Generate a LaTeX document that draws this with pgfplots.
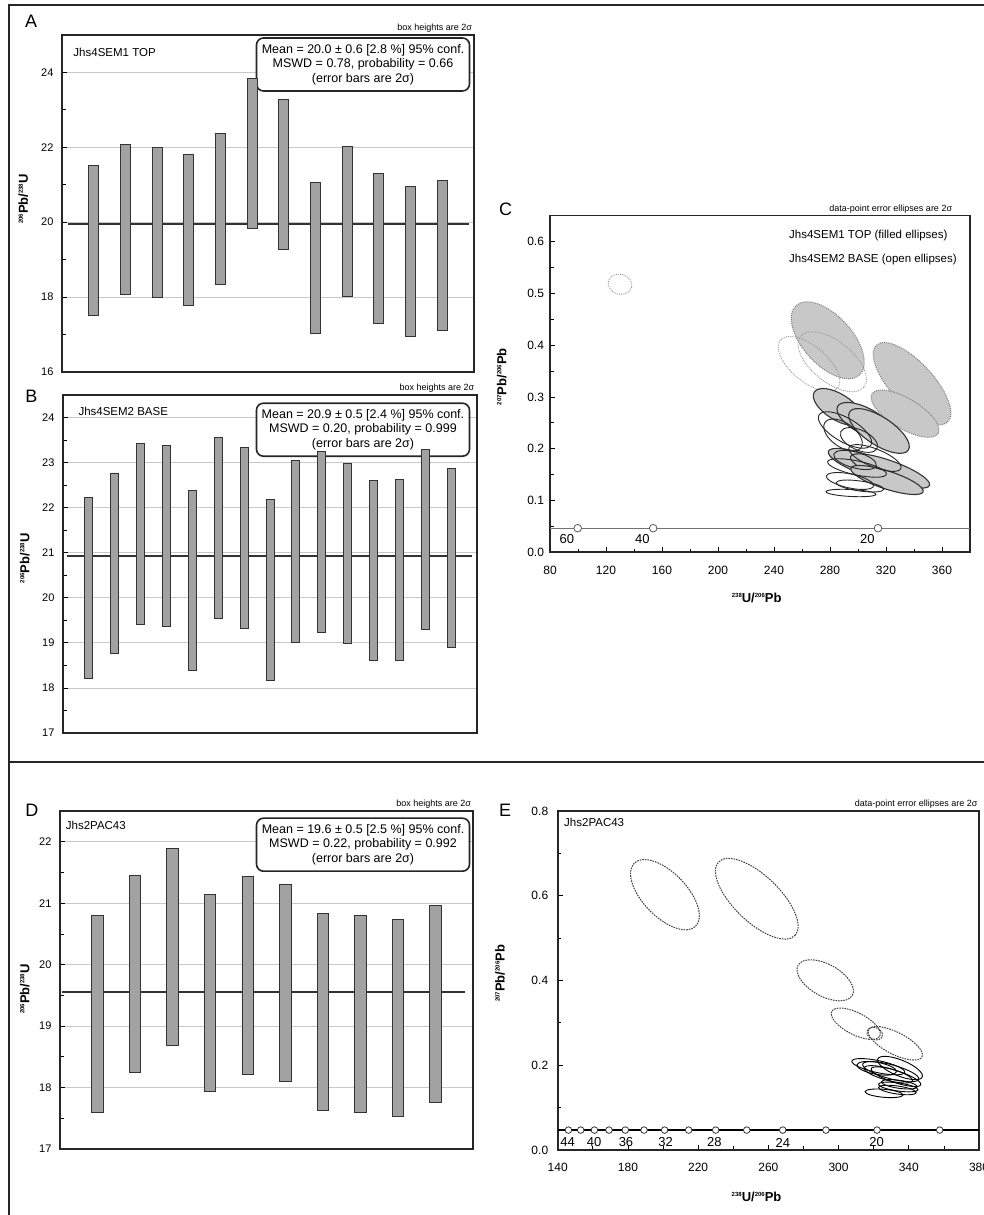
\documentclass[border=0pt]{standalone}
\usepackage{pgfplots}
\pgfplotsset{compat=1.18}
\usepackage{pgfplotstable}
\usepackage{fontspec}
\setmainfont{Liberation Sans}

\definecolor{barfill}{HTML}{A2A2A2}
\definecolor{barline}{HTML}{333333}
\definecolor{gridc}{HTML}{C8C8C8}
\definecolor{ellfill}{HTML}{C8C8C8}
\definecolor{framec}{HTML}{262626}

\pgfdeclareplotmark{ellF}{%
  \pgfpathellipse{\pgfpointorigin}{\pgfpointpolar{\ellT}{\ellA pt}}{\pgfpointpolar{\ellT+90}{\ellB pt}}%
  \pgfusepathqfillstroke}
\pgfdeclareplotmark{ellO}{%
  \pgfpathellipse{\pgfpointorigin}{\pgfpointpolar{\ellT}{\ellA pt}}{\pgfpointpolar{\ellT+90}{\ellB pt}}%
  \pgfusepathqstroke}

\newcommand\iso[1]{\raisebox{5pt}{\fontsize{6}{6}\selectfont\bfseries #1}}

\tikzset{
  statbox/.style={draw=framec, line width=1.6pt, rounded corners=7pt, fill=white,
    minimum width=213pt, minimum height=53pt, align=center, inner sep=1pt,
    font=\fontsize{12.5}{14.5}\selectfont},
  smallnote/.style={anchor=south east, inner sep=0.5pt, font=\fontsize{9}{10}\selectfont},
  sampname/.style={anchor=west, inner sep=0pt, font=\fontsize{11.5}{13}\selectfont},
}

\pgfplotsset{
  ellplot/.style={scatter, only marks,
    visualization depends on={\thisrow{a}\as\ellA},
    visualization depends on={\thisrow{b}\as\ellB},
    visualization depends on={\thisrow{t}\as\ellT}},
  common/.style={scale only axis, anchor=south west,
    axis line style={line width=1.6pt, framec},
    tick style={line width=0.8pt, black},
    major tick length=5pt, minor tick length=3.5pt,
    xtick pos=left, ytick pos=left,
    tick label style={font=\fontsize{11}{13}\selectfont},
    /pgf/number format/assume math mode=true,
    clip mode=individual},
  barpanel/.style={common, ybar stacked, xtick=\empty,
    yticklabel style={xshift=-5pt},
    ymajorgrids, grid style={gridc, line width=0.8pt},
    ylabel={\iso{206}Pb/\iso{238}U},
    ylabel style={font=\bfseries\fontsize{13}{15}\selectfont, anchor=center}},
  ellpanel/.style={common,
    ylabel={\iso{207}Pb/\iso{206}Pb}, xlabel={\iso{238}U/\iso{206}Pb},
    label style={font=\bfseries\fontsize{13}{15}\selectfont, anchor=center},
    tick label style={font=\fontsize{12}{13}\selectfont},
    xticklabel style={yshift=-10pt},
    minor x tick num=1, minor y tick num=1,
    yticklabel style={/pgf/number format/fixed, /pgf/number format/fixed zerofill, /pgf/number format/precision=1}},
}

% ---------- bar data (lower and upper ends of 2 sigma boxes) ----------
\pgfplotstableread{
x lo hi
1 17.51 21.52
2 18.07 22.08
3 17.99 22.00
4 17.79 21.80
5 18.35 22.36
6 19.83 23.84
7 19.28 23.29
8 17.04 21.05
9 18.02 22.03
10 17.29 21.30
11 16.95 20.96
12 17.11 21.12
}\barsA

\pgfplotstableread{
x lo hi
1 18.21 22.22
2 18.76 22.77
3 19.41 23.42
4 19.37 23.38
5 18.38 22.39
6 19.55 23.56
7 19.32 23.34
8 18.17 22.18
9 19.02 23.04
10 19.23 23.24
11 18.99 22.99
12 18.60 22.60
13 18.62 22.62
14 19.29 23.30
15 18.89 22.88
}\barsB

\pgfplotstableread{
x lo hi
1 17.60 20.80
2 18.24 21.45
3 18.68 21.89
4 17.93 21.14
5 18.21 21.43
6 18.10 21.31
7 17.63 20.84
8 17.60 20.80
9 17.53 20.74
10 17.76 20.96
}\barsD

% ---------- ellipse data: centre x y, semi-axes a b (pt), tilt t (deg) ----------
\pgfplotstableread{
x y a b t
278.4 0.4094 47 24.6 -47.7
338.6 0.3256 52.4 21.3 -47.3
333.6 0.2677 38.6 15.1 -30.9
}\CfillDot

\pgfplotstableread{
x y a b t
265.0 0.3637 37.3 17.8 -39.8
281.6 0.3680 40.6 20.5 -38.7
130.0 0.5176 12 10 -15
}\CopenDot

\pgfplotstableread{
x y a b t
285.7 0.2806 28 13 -32
305.0 0.2536 31 13 -28
315.0 0.2343 35 14 -33
305.7 0.1686 40 10 -20
322.9 0.1570 42 10 -20
320.7 0.1396 38 9 -18
}\CfillSolid

\pgfplotstableread{
x y a b t
290.7 0.2362 30 12 -30
289.3 0.2265 22 12 -35
300.7 0.2169 20 10 -25
299.3 0.1628 30 7 -12
294.3 0.1377 24 7 -12
295.0 0.1145 25 3.5 -3
301.4 0.1280 24 5 -8
312.1 0.1821 28 9 -22
297.9 0.1783 22 8 -15
}\CopenSolid

\pgfplotstableread{
x y a b t
201.1 0.6025 44 22 -46
253.4 0.5930 53 23 -44
292.4 0.4005 31 16 -29
309.8 0.2980 27 11 -27
320.6 0.2745 8 6 -20
332.3 0.2518 30 11 -27
}\EopenDot

\pgfplotstableread{
x y a b t
322.6 0.1966 27 6 -12
335.0 0.1935 24 8 -22
329.7 0.1848 29 7 -15
328.3 0.1786 25 6 -15
332.7 0.1730 26 6 -18
334.0 0.1487 20 4 -8
333.5 0.1416 19 4 -8
325.9 0.1338 19 4 -5
334.6 0.1550 18 4 -8
321.7 0.1928 20 6 -10
}\EopenSolid

\begin{document}
\begin{tikzpicture}[x=1pt,y=1pt]
\useasboundingbox (0,0) rectangle (984,1215);
% frame
\draw[framec, line width=2.2pt] (8,1210) -- (984,1210);
\draw[framec, line width=2.2pt] (9,1211) -- (9,0);
\draw[framec, line width=2.2pt] (9,453.3) -- (984,453.3);
% panel letters
\begin{scope}[every node/.style={font=\fontsize{18}{20}\selectfont, inner sep=0pt}]
\node at (31.2,1193.3) {A};
\node at (31.3,818.7) {B};
\node at (505.5,1005.3) {C};
\node at (31.8,404.7) {D};
\node at (505,404.2) {E};
\end{scope}

% ================= A =================
\begin{axis}[barpanel, at={(62pt,843pt)}, width=412pt, height=337pt,
  xmin=0, xmax=13, ymin=16, ymax=25, ytick={16,18,20,22,24}, minor ytick={17,19,21,23},
  bar width=10pt, ylabel style={at={(axis description cs:-0.094,0.513)}}]
\addplot[draw=none, fill=none, forget plot] table[x=x, y=lo] {\barsA};
\addplot[fill=barfill, draw=barline, line width=0.9pt] table[x=x, y expr=\thisrow{hi}-\thisrow{lo}] {\barsA};
\addplot[sharp plot, stack plots=false, barline, line width=2pt, mark=none, forget plot] coordinates {(0.19,19.95) (12.84,19.95)};
\node[sampname] at (axis description cs:0.0274,0.9475) {Jhs4SEM1 TOP};
\node[statbox] at (axis description cs:0.7306,0.9125) {Mean = 20.0 ± 0.6 [2.8 \%] 95\% conf.\\MSWD = 0.78, probability = 0.66\\(error bars are 2σ)};
\node[smallnote] at (axis description cs:0.997,1.006) {box heights are 2σ};
\end{axis}

% ================= B =================
\begin{axis}[barpanel, at={(63pt,482pt)}, width=414pt, height=338pt,
  xmin=0, xmax=16, ymin=17, ymax=24.5, ytick={17,18,19,20,21,22,23,24}, minor y tick num=1,
  bar width=8pt, ylabel style={at={(axis description cs:-0.092,0.517)}}]
\addplot[draw=none, fill=none, forget plot] table[x=x, y=lo] {\barsB};
\addplot[fill=barfill, draw=barline, line width=0.9pt] table[x=x, y expr=\thisrow{hi}-\thisrow{lo}] {\barsB};
\addplot[sharp plot, stack plots=false, barline, line width=2pt, mark=none, forget plot] coordinates {(0.14,20.93) (15.8,20.93)};
\node[sampname] at (axis description cs:0.037,0.9527) {Jhs4SEM2 BASE};
\node[statbox] at (axis description cs:0.7246,0.8973) {Mean = 20.9 ± 0.5 [2.4 \%] 95\% conf.\\MSWD = 0.20, probability = 0.999\\(error bars are 2σ)};
\node[smallnote] at (axis description cs:0.995,1.006) {box heights are 2σ};
\end{axis}

% ================= D =================
\begin{axis}[barpanel, at={(60pt,66pt)}, width=413pt, height=338pt,
  xmin=0, xmax=11, ymin=17, ymax=22.5, ytick={17,18,19,20,21,22}, minor y tick num=1,
  bar width=11.5pt, ylabel style={at={(axis description cs:-0.085,0.473)}}]
\addplot[draw=none, fill=none, forget plot] table[x=x, y=lo] {\barsD};
\addplot[fill=barfill, draw=barline, line width=0.9pt] table[x=x, y expr=\thisrow{hi}-\thisrow{lo}] {\barsD};
\addplot[sharp plot, stack plots=false, barline, line width=2pt, mark=none, forget plot] coordinates {(0.06,19.55) (10.79,19.55)};
\node[sampname] at (axis description cs:0.0138,0.9586) {Jhs2PAC43};
\node[statbox] at (axis description cs:0.7337,0.9003) {Mean = 19.6 ± 0.5 [2.5 \%] 95\% conf.\\MSWD = 0.22, probability = 0.992\\(error bars are 2σ)};
\node[smallnote] at (axis description cs:0.997,1.006) {box heights are 2σ};
\end{axis}

% ================= C =================
\begin{axis}[ellpanel, at={(550pt,662.7pt)}, width=420pt, height=336.6pt,
  xmin=80, xmax=380, ymin=0, ymax=0.65,
  xtick={80,120,160,200,240,280,320,360}, ytick={0,0.1,0.2,0.3,0.4,0.5,0.6},
  yticklabel style={xshift=-2.5pt},
  ylabel style={at={(axis description cs:-0.115,0.522)}},
  xlabel style={at={(axis description cs:0.492,-0.137)}}]
\addplot[ellplot, mark=ellF, scatter/use mapped color={draw=black!50, fill=ellfill, densely dotted, line width=1pt}] table {\CfillDot};
\addplot[ellplot, mark=ellO, scatter/use mapped color={draw=black!40, densely dotted, line width=0.9pt}] table {\CopenDot};
\addplot[ellplot, mark=ellF, scatter/use mapped color={draw=black!80, fill=ellfill, solid, line width=1.1pt}] table {\CfillSolid};
\addplot[ellplot, mark=ellO, scatter/use mapped color={draw=black!85, solid, line width=0.9pt}] table {\CopenSolid};
\addplot[black!55, line width=1.3pt, mark=none] coordinates {(80,0.0465) (380,0.0465)};
\addplot[only marks, mark=*, mark size=3.8pt, mark options={fill=white, draw=black!65, line width=0.8pt}] coordinates {(99.8,0.0465) (153.7,0.0465) (314.3,0.0465)};
\begin{scope}[every node/.style={font=\fontsize{13}{14}\selectfont, inner sep=0pt}]
\node at (axis cs:92,0.0247) {60};
\node at (axis cs:146,0.0247) {40};
\node at (axis cs:306.7,0.0247) {20};
\end{scope}
\node[sampname] at (axis description cs:0.569,0.9406) {Jhs4SEM1 TOP (filled ellipses)};
\node[sampname] at (axis description cs:0.569,0.8684) {Jhs4SEM2 BASE (open ellipses)};
\node[smallnote] at (axis description cs:0.959,1.006) {data-point error ellipses are 2σ};
\end{axis}

% ================= E =================
\begin{axis}[ellpanel, at={(557.7pt,65pt)}, width=421.3pt, height=339pt,
  xmin=140, xmax=380, ymin=0, ymax=0.8,
  xtick={140,180,220,260,300,340,380}, ytick={0,0.2,0.4,0.6,0.8},
  yticklabel style={xshift=-6pt},
  ylabel style={at={(axis description cs:-0.137,0.521)}},
  xlabel style={at={(axis description cs:0.472,-0.138)}}]
\addplot[ellplot, mark=ellO, scatter/use mapped color={draw=black!75, dash pattern=on 1.6pt off 1pt, line width=1pt}] table {\EopenDot};
\addplot[ellplot, mark=ellO, scatter/use mapped color={draw=black, solid, line width=0.9pt}] table {\EopenSolid};
\addplot[black, line width=2pt, mark=none] coordinates {(140,0.047) (380,0.047)};
\addplot[only marks, mark=*, mark size=3.3pt, mark options={fill=white, draw=black!80, line width=0.8pt}] coordinates {
(146.1,0.047) (153.1,0.047) (160.9,0.047) (169.2,0.047) (178.5,0.047) (189.2,0.047) (200.9,0.047)
(214.6,0.047) (230.0,0.047) (247.7,0.047) (268.2,0.047) (292.8,0.047) (321.9,0.047) (357.6,0.047)};
\begin{scope}[every node/.style={font=\fontsize{13}{14}\selectfont, inner sep=0pt}]
\node at (axis cs:145.7,0.0177) {44};
\node at (axis cs:160.7,0.0177) {40};
\node at (axis cs:178.9,0.0177) {36};
\node at (axis cs:201.5,0.0177) {32};
\node at (axis cs:229.2,0.0177) {28};
\node at (axis cs:268.2,0.0177) {24};
\node at (axis cs:321.7,0.0177) {20};
\end{scope}
\node[sampname] at (axis description cs:0.015,0.9667) {Jhs2PAC43};
\node[smallnote] at (axis description cs:0.998,1.006) {data-point error ellipses are 2σ};
\end{axis}
\end{tikzpicture}
\end{document}
